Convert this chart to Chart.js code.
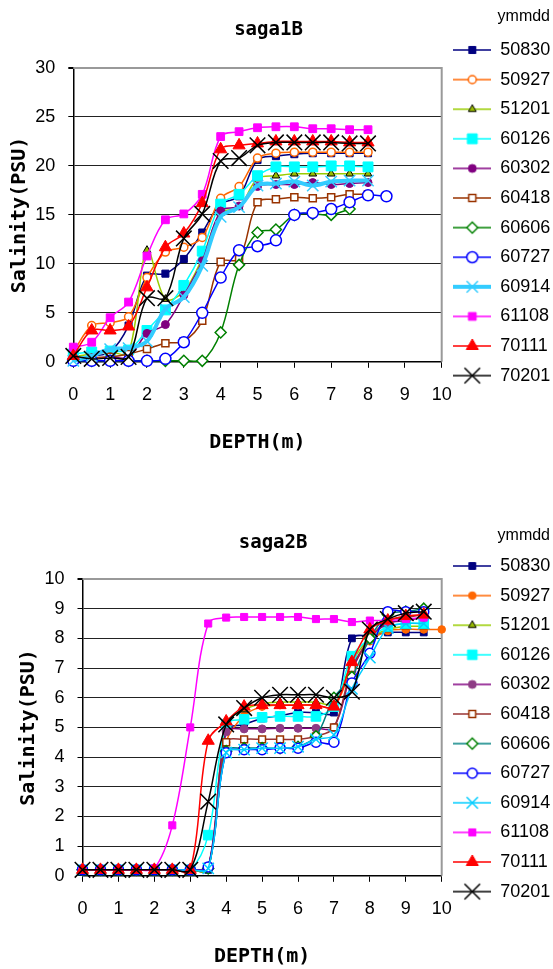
<!DOCTYPE html>
<html>
<head>
<meta charset="utf-8">
<script src="https://cdn.jsdelivr.net/npm/chart.js@4.4.1/dist/chart.umd.min.js"></script>
<style>
  html, body { margin: 0; padding: 0; background: #fff; }
  #box1 { position: absolute; left: 0; top: 0; width: 553px; height: 470px; }
  #box2 { position: absolute; left: 0; top: 470px; width: 553px; height: 499px; }
</style>
</head>
<body>
<div id="box1"><canvas id="saga1" width="553" height="470"></canvas></div>
<div id="box2"><canvas id="saga2" width="553" height="499"></canvas></div>
<script>
// --- DADOS ---
const series = ['50830', '50927', '51201', '60126', '60302', '60418', '60606', '60727', '60914', '61108', '70111', '70201'];
const depthTicks = [0, 1, 2, 3, 4, 5, 6, 7, 8, 9, 10];

// saga1B
const depth1 = [0, 0.5, 1, 1.5, 2, 2.5, 3, 3.5, 4, 4.5, 5, 5.5, 6, 6.5, 7, 7.5, 8];
const depth1short = [0, 0.5, 1, 1.5, 2, 2.5, 3, 3.5, 4, 4.5, 5, 5.5, 6, 6.5, 7, 7.5];
const depth1long = [0, 0.5, 1, 1.5, 2, 2.5, 3, 3.5, 4, 4.5, 5, 5.5, 6, 6.5, 7, 7.5, 8, 8.5];
const salt1_50830 = [0.3, 0.6, 1.0, 3.7, 8.8, 9.0, 10.5, 13.2, 16.1, 16.9, 20.6, 21.0, 21.2, 21.3, 21.3, 21.3, 21.3];
const salt1_50927 = [1.0, 3.7, 4.0, 4.6, 8.6, 11.2, 11.7, 12.7, 16.7, 17.9, 20.8, 21.3, 21.4, 21.4, 21.4, 21.4, 21.4];
const salt1_51201 = [0.5, 0.8, 1.0, 0.9, 11.4, 6.4, 7.2, 10.6, 15.2, 15.8, 18.7, 19.0, 19.2, 19.2, 19.2, 19.2, 19.2];
const salt1_60126 = [0.8, 1.0, 1.1, 1.2, 3.2, 5.3, 7.8, 11.3, 16.1, 17.1, 19.0, 19.9, 19.9, 19.9, 20.0, 20.0, 19.9];
const salt1_60302 = [0.3, 0.4, 0.5, 0.5, 2.9, 3.8, 6.8, 10.3, 15.4, 15.9, 17.9, 18.1, 18.1, 18.3, 18.1, 18.2, 18.3];
const salt1_60418 = [0.2, 0.4, 0.5, 0.8, 1.3, 1.9, 2.1, 4.2, 10.2, 10.5, 16.3, 16.6, 16.8, 16.7, 16.8, 17.1, 17.1];
const salt1_60606 = [0.1, 0.1, 0.1, 0.1, 0.1, 0.1, 0.1, 0.1, 3.0, 9.9, 13.2, 13.5, 15.0, 15.1, 15.0, 15.6];
const salt1_60727 = [0.1, 0.1, 0.1, 0.1, 0.1, 0.3, 2.0, 5.0, 8.6, 11.4, 11.8, 12.4, 15.0, 15.2, 15.6, 16.3, 17.0, 16.9];
const salt1_60914 = [0.1, 0.6, 1.3, 1.4, 2.1, 5.4, 6.6, 9.8, 14.8, 15.8, 18.0, 18.2, 18.4, 18.0, 18.4, 18.5, 18.5];
const salt1_61108 = [1.5, 2.0, 4.5, 6.1, 10.8, 14.5, 15.1, 17.1, 23.0, 23.5, 23.9, 24.0, 24.0, 23.8, 23.8, 23.7, 23.7];
const salt1_70111 = [0.6, 3.2, 3.2, 3.6, 7.6, 11.7, 13.1, 16.2, 21.7, 22.1, 22.3, 22.5, 22.5, 22.5, 22.5, 22.4, 22.4];
const salt1_70201 = [0.6, 0.3, 0.4, 0.5, 6.5, 6.5, 12.6, 15.1, 20.5, 20.8, 22.1, 22.4, 22.4, 22.4, 22.4, 22.3, 22.3];

// saga2B
const depth2 = [0, 0.5, 1, 1.5, 2, 2.5, 3, 3.5, 4, 4.5, 5, 5.5, 6, 6.5, 7, 7.5, 8, 8.5, 9, 9.5];
const depth2long = [0, 0.5, 1, 1.5, 2, 2.5, 3, 3.5, 4, 4.5, 5, 5.5, 6, 6.5, 7, 7.5, 8, 8.5, 9, 9.5, 10];
const salt2_50830 = [0.2, 0.2, 0.2, 0.2, 0.2, 0.2, 0.2, 0.2, 4.9, 5.1, 5.3, 5.4, 5.5, 5.5, 5.5, 8.0, 8.1, 8.2, 8.2, 8.2];
const salt2_50927 = [0.2, 0.2, 0.2, 0.2, 0.2, 0.2, 0.2, 0.3, 4.5, 5.4, 5.7, 5.75, 5.75, 5.75, 5.7, 7.0, 7.9, 8.25, 8.3, 8.3, 8.3];
const salt2_51201 = [0.2, 0.2, 0.2, 0.2, 0.2, 0.2, 0.2, 0.2, 5.1, 5.6, 5.8, 5.85, 5.85, 5.85, 5.8, 7.2, 8.0, 8.3, 8.4, 8.4];
const salt2_60126 = [0.2, 0.2, 0.2, 0.2, 0.2, 0.2, 0.2, 1.37, 5.1, 5.27, 5.34, 5.37, 5.37, 5.37, 5.7, 7.4, 8.0, 8.4, 8.5, 8.5];
const salt2_60302 = [0.2, 0.2, 0.2, 0.2, 0.2, 0.2, 0.2, 0.3, 4.85, 4.95, 4.95, 4.97, 4.97, 4.97, 5.0, 6.9, 8.0, 8.5, 8.6, 8.7];
const salt2_60418 = [0.2, 0.2, 0.2, 0.2, 0.2, 0.2, 0.2, 0.3, 4.5, 4.6, 4.6, 4.6, 4.6, 4.7, 5.0, 7.0, 8.0, 8.6, 8.7, 8.8];
const salt2_60606 = [0.2, 0.2, 0.2, 0.2, 0.2, 0.2, 0.2, 0.25, 4.2, 4.3, 4.3, 4.3, 4.35, 4.7, 6.0, 6.7, 8.0, 8.8, 8.9, 9.0];
const salt2_60727 = [0.2, 0.2, 0.2, 0.2, 0.2, 0.2, 0.2, 0.3, 4.15, 4.25, 4.25, 4.3, 4.3, 4.5, 4.5, 6.5, 7.5, 8.9, 8.9, 8.9];
const salt2_60914 = [0.2, 0.2, 0.2, 0.2, 0.2, 0.2, 0.2, 0.25, 4.15, 4.25, 4.3, 4.3, 4.35, 4.6, 4.75, 6.3, 7.35, 8.35, 8.5, 8.5];
const salt2_61108 = [0.2, 0.2, 0.2, 0.2, 0.25, 1.7, 5.0, 8.5, 8.7, 8.72, 8.72, 8.72, 8.72, 8.65, 8.65, 8.55, 8.6, 8.6, 8.65, 8.7];
const salt2_70111 = [0.2, 0.2, 0.2, 0.2, 0.2, 0.2, 0.2, 4.55, 5.2, 5.7, 5.75, 5.75, 5.75, 5.75, 5.7, 7.2, 8.3, 8.6, 8.75, 8.8];
const salt2_70201 = [0.2, 0.2, 0.2, 0.2, 0.2, 0.2, 0.2, 2.5, 5.1, 5.65, 6.0, 6.1, 6.1, 6.1, 6.0, 6.2, 8.3, 8.65, 8.85, 8.9];

// --- ESTILOS ---
const styles1 = [
  { line: '#000080', width: 1.5, pt: 'rect', r: 5, fill: '#000080', border: '#000080', bw: 1 },
  { line: '#FF6600', width: 1.5, pt: 'circle', r: 4, fill: '#FFFFFF', border: '#FF6600', bw: 1.5 },
  { line: '#99CC00', width: 1.5, pt: 'triangle', r: 4.5, fill: '#99BB00', border: '#000000', bw: 1 },
  { line: '#00FFFF', width: 1.5, pt: 'rect', r: 7, fill: '#00FFFF', border: '#00FFFF', bw: 1 },
  { line: '#800080', width: 1.5, pt: 'circle', r: 4, fill: '#800080', border: '#800080', bw: 1 },
  { line: '#993300', width: 1.5, pt: 'rect', r: 5, fill: '#FFFFFF', border: '#993300', bw: 1.5 },
  { line: '#008000', width: 1.5, pt: 'rectRot', r: 5.5, fill: '#FFFFFF', border: '#008000', bw: 1.5 },
  { line: '#0000FF', width: 1.5, pt: 'circle', r: 5.5, fill: '#FFFFFF', border: '#0000FF', bw: 1.5 },
  { line: '#33CCFF', width: 4, pt: 'crossRot', r: 8, fill: '#33CCFF', border: '#33CCFF', bw: 1.5 },
  { line: '#FF00FF', width: 1.5, pt: 'rect', r: 5.5, fill: '#FF00FF', border: '#FF00FF', bw: 1 },
  { line: '#FF0000', width: 1.5, pt: 'triangle', r: 7, fill: '#FF0000', border: '#FF0000', bw: 1 },
  { line: '#000000', width: 1.5, pt: 'crossRot', r: 11, fill: '#000000', border: '#000000', bw: 1.5 }
];
const styles2 = [
  { line: '#000080', width: 1.5, pt: 'rect', r: 4.8, fill: '#000080', border: '#000080', bw: 1 },
  { line: '#FF6600', width: 1.5, pt: 'circle', r: 3.8, fill: '#FF6600', border: '#FF6600', bw: 1 },
  { line: '#99CC00', width: 1.5, pt: 'triangle', r: 4.5, fill: '#99BB00', border: '#000000', bw: 1 },
  { line: '#00FFFF', width: 1.5, pt: 'rect', r: 6.8, fill: '#00FFFF', border: '#00FFFF', bw: 1 },
  { line: '#800080', width: 1.5, pt: 'circle', r: 4, fill: '#8E3B85', border: '#8E3B85', bw: 1 },
  { line: '#993333', width: 1.5, pt: 'rect', r: 4.8, fill: '#FFFFFF', border: '#993300', bw: 1.5 },
  { line: '#008080', width: 1.5, pt: 'rectRot', r: 5.5, fill: '#FFFFFF', border: '#008000', bw: 1.5 },
  { line: '#0000FF', width: 1.5, pt: 'circle', r: 5, fill: '#FFFFFF', border: '#0000FF', bw: 1.5 },
  { line: '#00CCFF', width: 1.5, pt: 'crossRot', r: 8, fill: '#00CCFF', border: '#00CCFF', bw: 1.5 },
  { line: '#FF00FF', width: 1.5, pt: 'rect', r: 5, fill: '#FF00FF', border: '#FF00FF', bw: 1 },
  { line: '#FF0000', width: 1.5, pt: 'triangle', r: 7, fill: '#FF0000', border: '#FF0000', bw: 1 },
  { line: '#000000', width: 1.5, pt: 'crossRot', r: 11, fill: '#000000', border: '#000000', bw: 1.5 }
];

const mono = "'DejaVu Sans Mono', 'Liberation Mono', monospace";
Chart.defaults.font.family = "'Liberation Sans', Arial, sans-serif";
Chart.defaults.color = '#000';

function pts(depths, vals) {
  return vals.map((v, i) => ({ x: depths[i], y: v }));
}

// ícone da legenda: linha + marcador, como no Excel
function makeIcon(st) {
  const c = document.createElement('canvas');
  c.width = 38; c.height = 20;
  const g = c.getContext('2d');
  g.strokeStyle = st.line; g.lineWidth = st.width;
  g.beginPath(); g.moveTo(0, 10); g.lineTo(38, 10); g.stroke();
  g.fillStyle = st.fill; g.strokeStyle = st.border; g.lineWidth = st.bw;
  if (Chart.helpers && Chart.helpers.drawPoint) {
    Chart.helpers.drawPoint(g, { pointStyle: st.pt, radius: st.r, borderWidth: st.bw, rotation: 0 }, 19, 10);
  }
  return c;
}

function buildSets(pairs, styles) {
  return pairs.map((p, i) => {
    const st = styles[i];
    return {
      label: series[i],
      data: pts(p[0], p[1]),
      borderColor: st.line,
      backgroundColor: st.fill,
      borderWidth: st.width,
      pointStyle: st.pt,
      pointRadius: st.r,
      pointHoverRadius: st.r,
      pointBackgroundColor: st.fill,
      pointBorderColor: st.border,
      pointBorderWidth: st.bw,
      tension: 0.35,
      fill: false,
      clip: false,
      order: pairs.length - i
    };
  });
}

const frame = {
  id: 'frame',
  beforeDatasetsDraw(chart) {
    const { ctx, chartArea: a } = chart;
    ctx.save();
    ctx.strokeStyle = '#999';
    ctx.lineWidth = 2;
    ctx.beginPath();
    ctx.moveTo(a.left, a.top);
    ctx.lineTo(a.right, a.top);
    ctx.lineTo(a.right, a.bottom);
    ctx.stroke();
    ctx.restore();
  }
};

function makeChart(id, cfg) {
  const icons = cfg.styles.map(makeIcon);
  const fixLegend = {
    id: 'fixLegend',
    beforeInit(chart) {
      const orig = chart.legend.fit;
      chart.legend.fit = function () { orig.call(this); this.width = 108.3; };
    },
    afterLayout(chart) {
      if (chart.titleBlock) { chart.titleBlock.left += 11; chart.titleBlock.right += 11; }
    }
  };
  return new Chart(document.getElementById(id), {
    type: 'line',
    data: { datasets: buildSets(cfg.pairs, cfg.styles) },
    plugins: [fixLegend, frame],
    options: {
      responsive: false,
      animation: false,
      layout: { padding: { left: 0, right: 3, top: 0, bottom: 0 } },
      plugins: {
        tooltip: { enabled: false },
        title: {
          display: true, text: cfg.title, fullSize: false, color: '#000',
          font: { family: mono, size: 19, weight: 'bold' },
          padding: cfg.titlePad
        },
        legend: {
          position: 'right', align: 'start',
          title: { display: true, text: 'ymmdd', position: 'end', color: '#000', font: { size: 16 }, padding: cfg.legendTitlePad },
          labels: {
            usePointStyle: true, pointStyleWidth: 38, padding: 11.6, color: '#000',
            font: { size: 18 },
            sort: (a, b) => a.datasetIndex - b.datasetIndex,
            generateLabels(chart) {
              const items = Chart.defaults.plugins.legend.labels.generateLabels(chart);
              items.forEach(it => { it.pointStyle = icons[it.datasetIndex]; });
              return items;
            }
          }
        }
      },
      scales: {
        x: {
          type: 'linear', min: 0, max: 10,
          afterBuildTicks: s => { s.ticks = depthTicks.map(v => ({ value: v })); },
          ticks: { font: { size: 18 }, padding: 16.2, color: '#000', maxRotation: 0 },
          grid: { drawOnChartArea: false, drawTicks: true, tickLength: 6, color: '#000' },
          border: { color: '#000', width: 1.5 },
          title: { display: true, text: 'DEPTH(m)', color: '#000', font: { family: mono, size: 20, weight: 'bold' }, padding: cfg.xTitlePad }
        },
        y: {
          min: 0, max: cfg.yMax,
          afterFit: s => { s.width = cfg.yWidth; },
          afterBuildTicks: s => { s.ticks = cfg.yTicks.map(v => ({ value: v })); },
          ticks: { font: { size: 18 }, padding: 13, color: '#000' },
          grid: {
            color: c => (c.tick && c.tick.value === cfg.yMax) ? '#999' : '#222',
            lineWidth: c => (c.tick && c.tick.value === cfg.yMax) ? 2 : 1,
            tickLength: 5, tickColor: '#000'
          },
          border: { color: '#000', width: 1.5 },
          title: { display: true, text: 'Salinity(PSU)', color: '#000', font: { family: mono, size: 20, weight: 'bold' }, padding: { top: cfg.yTitleTop, bottom: 0 } }
        }
      }
    }
  });
}

// --- GRÁFICO 1 ---
makeChart('saga1', {
  title: 'saga1B',
  titlePad: { top: 18.6, bottom: 26.6 },
  legendTitlePad: { top: 9, bottom: 1.2 },
  xTitlePad: { top: 9.2, bottom: 15 },
  yMax: 30, yTicks: [0, 5, 10, 15, 20, 25, 30], yWidth: 73.3, yTitleTop: 8,
  styles: styles1,
  pairs: [
    [depth1, salt1_50830], [depth1, salt1_50927], [depth1, salt1_51201], [depth1, salt1_60126],
    [depth1, salt1_60302], [depth1, salt1_60418], [depth1short, salt1_60606], [depth1long, salt1_60727],
    [depth1, salt1_60914], [depth1, salt1_61108], [depth1, salt1_70111], [depth1, salt1_70201]
  ]
});

// --- GRÁFICO 2 ---
makeChart('saga2', {
  title: 'saga2B',
  titlePad: { top: 61.6, bottom: 24.6 },
  legendTitlePad: { top: 58, bottom: -1.8 },
  xTitlePad: { top: 9.2, bottom: 0 },
  yMax: 10, yTicks: [0, 1, 2, 3, 4, 5, 6, 7, 8, 9, 10], yWidth: 82.5, yTitleTop: 17,
  styles: styles2,
  pairs: [
    [depth2, salt2_50830], [depth2long, salt2_50927], [depth2, salt2_51201], [depth2, salt2_60126],
    [depth2, salt2_60302], [depth2, salt2_60418], [depth2, salt2_60606], [depth2, salt2_60727],
    [depth2, salt2_60914], [depth2, salt2_61108], [depth2, salt2_70111], [depth2, salt2_70201]
  ]
});
</script>
</body>
</html>
